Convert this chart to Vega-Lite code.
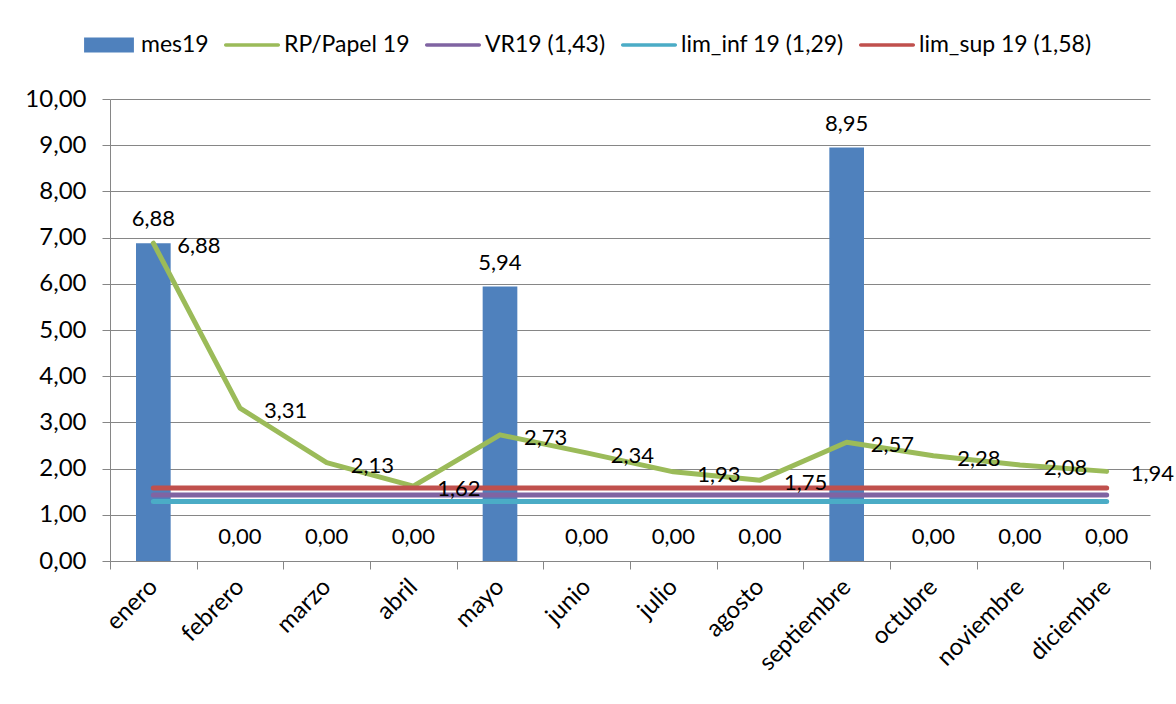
{
  "$schema": "https://vega.github.io/schema/vega-lite/v6.json",
  "width": 1040,
  "height": 462,
  "autosize": "none",
  "padding": {"left": 110, "top": 99, "right": 26, "bottom": 143},
  "background": "white",
  "config": {
    "locale": {"number": {"decimal": ",", "thousands": ".", "grouping": [3], "currency": ["", " €"]}},
    "font": "Lato",
    "view": {"stroke": null},
    "axis": {"labelFont": "Lato", "labelFontSize": 24, "labelColor": "#000000", "domainColor": "#868686", "tickColor": "#868686", "gridColor": "#868686"},
    "legend": {"labelFont": "Lato", "labelFontSize": 23, "labelColor": "#000000", "labelLimit": 400}
  },
  "data": {"values": [
    {"mes": "enero", "serie": "mes19", "valor": 6.88},
    {"mes": "febrero", "serie": "mes19", "valor": 0},
    {"mes": "marzo", "serie": "mes19", "valor": 0},
    {"mes": "abril", "serie": "mes19", "valor": 0},
    {"mes": "mayo", "serie": "mes19", "valor": 5.94},
    {"mes": "junio", "serie": "mes19", "valor": 0},
    {"mes": "julio", "serie": "mes19", "valor": 0},
    {"mes": "agosto", "serie": "mes19", "valor": 0},
    {"mes": "septiembre", "serie": "mes19", "valor": 8.95},
    {"mes": "octubre", "serie": "mes19", "valor": 0},
    {"mes": "noviembre", "serie": "mes19", "valor": 0},
    {"mes": "diciembre", "serie": "mes19", "valor": 0},
    {"mes": "enero", "serie": "RP/Papel 19", "valor": 6.88},
    {"mes": "febrero", "serie": "RP/Papel 19", "valor": 3.31},
    {"mes": "marzo", "serie": "RP/Papel 19", "valor": 2.13},
    {"mes": "abril", "serie": "RP/Papel 19", "valor": 1.62},
    {"mes": "mayo", "serie": "RP/Papel 19", "valor": 2.73},
    {"mes": "junio", "serie": "RP/Papel 19", "valor": 2.34},
    {"mes": "julio", "serie": "RP/Papel 19", "valor": 1.93},
    {"mes": "agosto", "serie": "RP/Papel 19", "valor": 1.75},
    {"mes": "septiembre", "serie": "RP/Papel 19", "valor": 2.57},
    {"mes": "octubre", "serie": "RP/Papel 19", "valor": 2.28},
    {"mes": "noviembre", "serie": "RP/Papel 19", "valor": 2.08},
    {"mes": "diciembre", "serie": "RP/Papel 19", "valor": 1.94},
    {"mes": "enero", "serie": "VR19 (1,43)", "valor": 1.43},
    {"mes": "febrero", "serie": "VR19 (1,43)", "valor": 1.43},
    {"mes": "marzo", "serie": "VR19 (1,43)", "valor": 1.43},
    {"mes": "abril", "serie": "VR19 (1,43)", "valor": 1.43},
    {"mes": "mayo", "serie": "VR19 (1,43)", "valor": 1.43},
    {"mes": "junio", "serie": "VR19 (1,43)", "valor": 1.43},
    {"mes": "julio", "serie": "VR19 (1,43)", "valor": 1.43},
    {"mes": "agosto", "serie": "VR19 (1,43)", "valor": 1.43},
    {"mes": "septiembre", "serie": "VR19 (1,43)", "valor": 1.43},
    {"mes": "octubre", "serie": "VR19 (1,43)", "valor": 1.43},
    {"mes": "noviembre", "serie": "VR19 (1,43)", "valor": 1.43},
    {"mes": "diciembre", "serie": "VR19 (1,43)", "valor": 1.43},
    {"mes": "enero", "serie": "lim_inf 19 (1,29)", "valor": 1.29},
    {"mes": "febrero", "serie": "lim_inf 19 (1,29)", "valor": 1.29},
    {"mes": "marzo", "serie": "lim_inf 19 (1,29)", "valor": 1.29},
    {"mes": "abril", "serie": "lim_inf 19 (1,29)", "valor": 1.29},
    {"mes": "mayo", "serie": "lim_inf 19 (1,29)", "valor": 1.29},
    {"mes": "junio", "serie": "lim_inf 19 (1,29)", "valor": 1.29},
    {"mes": "julio", "serie": "lim_inf 19 (1,29)", "valor": 1.29},
    {"mes": "agosto", "serie": "lim_inf 19 (1,29)", "valor": 1.29},
    {"mes": "septiembre", "serie": "lim_inf 19 (1,29)", "valor": 1.29},
    {"mes": "octubre", "serie": "lim_inf 19 (1,29)", "valor": 1.29},
    {"mes": "noviembre", "serie": "lim_inf 19 (1,29)", "valor": 1.29},
    {"mes": "diciembre", "serie": "lim_inf 19 (1,29)", "valor": 1.29},
    {"mes": "enero", "serie": "lim_sup 19 (1,58)", "valor": 1.58},
    {"mes": "febrero", "serie": "lim_sup 19 (1,58)", "valor": 1.58},
    {"mes": "marzo", "serie": "lim_sup 19 (1,58)", "valor": 1.58},
    {"mes": "abril", "serie": "lim_sup 19 (1,58)", "valor": 1.58},
    {"mes": "mayo", "serie": "lim_sup 19 (1,58)", "valor": 1.58},
    {"mes": "junio", "serie": "lim_sup 19 (1,58)", "valor": 1.58},
    {"mes": "julio", "serie": "lim_sup 19 (1,58)", "valor": 1.58},
    {"mes": "agosto", "serie": "lim_sup 19 (1,58)", "valor": 1.58},
    {"mes": "septiembre", "serie": "lim_sup 19 (1,58)", "valor": 1.58},
    {"mes": "octubre", "serie": "lim_sup 19 (1,58)", "valor": 1.58},
    {"mes": "noviembre", "serie": "lim_sup 19 (1,58)", "valor": 1.58},
    {"mes": "diciembre", "serie": "lim_sup 19 (1,58)", "valor": 1.58}
  ]},
  "encoding": {
    "x": {
      "field": "mes", "type": "nominal", "title": null,
      "sort": ["enero","febrero","marzo","abril","mayo","junio","julio","agosto","septiembre","octubre","noviembre","diciembre"],
      "scale": {"paddingInner": 0, "paddingOuter": 0},
      "axis": {"labelAngle": -45, "labelAlign": "right", "labelBaseline": "middle", "labelFontSize": 24, "tickBand": "extent", "tickSize": 8, "labelPadding": 14, "grid": false}
    },
    "y": {
      "field": "valor", "type": "quantitative", "title": null,
      "scale": {"domain": [0, 10], "nice": false},
      "axis": {"values": [0,1,2,3,4,5,6,7,8,9,10], "format": ".2f", "tickSize": 8, "labelPadding": 16, "grid": true, "gridWidth": 1}
    }
  },
  "layer": [
    {
      "transform": [{"filter": "datum.serie === 'mes19'"}],
      "mark": {"type": "bar", "color": "#4F81BD", "width": {"band": 0.4}},
      "encoding": {
        "color": {
          "field": "serie", "type": "nominal",
          "scale": {
            "domain": ["mes19","RP/Papel 19","VR19 (1,43)","lim_inf 19 (1,29)","lim_sup 19 (1,58)"],
            "range": ["#4F81BD","#9BBB59","#8064A2","#4BACC6","#C0504D"]
          },
          "legend": {
            "title": null, "orient": "none", "direction": "horizontal",
            "legendX": -29, "legendY": -82,
            "symbolSize": 3136, "labelOffset": 4, "columnPadding": 15,
            "symbolStrokeWidth": 0,
            "encode": {
              "symbols": {"update": {
                "shape": {"signal": "datum.label === 'mes19' ? 'M-0.89,-0.27H0.89V0.27H-0.89Z' : 'M-0.94,-0.06H0.94A0.06,0.06 0 0 1 0.94,0.06H-0.94A0.06,0.06 0 0 1 -0.94,-0.06Z'"},
                "fill": {"signal": "scale('color', datum.value)"},
                "stroke": {"value": "transparent"},
                "opacity": {"value": 1}
              }}
            }
          }
        }
      }
    },
    {
      "transform": [{"filter": "datum.serie !== 'mes19'"}],
      "mark": {"type": "line", "strokeWidth": 5, "strokeCap": "round", "strokeJoin": "round"},
      "encoding": {
        "color": {"field": "serie", "type": "nominal"}
      }
    },
    {
      "transform": [{"filter": "datum.serie === 'mes19'"}],
      "mark": {"type": "text", "baseline": "alphabetic", "dy": -17, "fontSize": 22, "font": "Lato", "color": "#000000"},
      "encoding": {"text": {"field": "valor", "type": "quantitative", "format": ".2f"}}
    },
    {
      "transform": [{"filter": "datum.serie === 'RP/Papel 19'"}],
      "mark": {"type": "text", "align": "left", "baseline": "middle", "dx": 24, "dy": 3, "fontSize": 22, "font": "Lato", "color": "#000000"},
      "encoding": {"text": {"field": "valor", "type": "quantitative", "format": ".2f"}}
    }
  ]
}
